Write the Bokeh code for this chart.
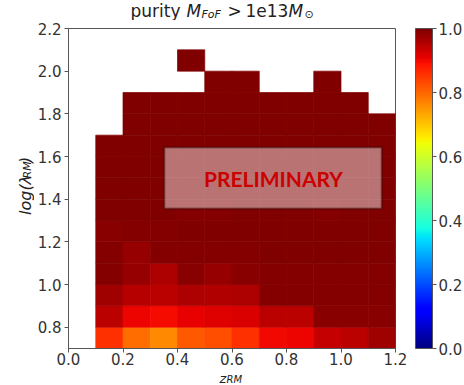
import numpy as np
from bokeh.plotting import figure
from bokeh.models import (ColumnDataSource, LinearColorMapper, ColorBar, FixedTicker,
                          PrintfTickFormatter, BoxAnnotation, Label, Range1d)
from bokeh.layouts import column, row
from bokeh.core.properties import value
from bokeh.embed import file_html
from bokeh.resources import INLINE

# ---------------- data ----------------
# bins along z_RM (left edges, width 0.1) and log(lambda_RM) (bottom edges, width 0.1)
z_left = [0.1, 0.2, 0.3, 0.4, 0.5, 0.6, 0.7, 0.8, 0.9, 1.0, 1.1]
lam_bottom = [0.7, 0.8, 0.9, 1.0, 1.1, 1.2, 1.3, 1.4, 1.5, 1.6, 1.7, 1.8, 1.9, 2.0]
bin_w = 0.1
N = None
# purity per lambda row (bottom to top), one value per z bin
purity = [
    [0.857, 0.794, 0.762, 0.815, 0.825, 0.857, 0.900, 0.905, 0.938, 0.946, 0.970],
    [0.946, 0.905, 0.895, 0.910, 0.915, 0.920, 0.946, 0.946, 0.990, 0.990, 0.990],
    [0.970, 0.950, 0.946, 0.960, 0.955, 0.958, 0.995, 0.995, 0.995, 0.995, 0.995],
    [0.995, 0.980, 0.960, 0.990, 0.980, 0.990, 0.995, 0.995, 0.995, 0.995, 0.995],
    [0.995, 0.980, 0.995, 0.995, 0.995, 0.995, 1.000, 1.000, 1.000, 1.000, 1.000],
    [0.990, 0.995, 0.995, 1.000, 1.000, 1.000, 1.000, 1.000, 1.000, 1.000, 1.000],
    [1.000, 1.000, 1.000, 0.995, 0.995, 1.000, 1.000, 1.000, 0.995, 1.000, 1.000],
    [1.000, 1.000, 1.000, 1.000, 1.000, 1.000, 1.000, 1.000, 1.000, 1.000, 1.000],
    [1.000, 1.000, 1.000, 1.000, 1.000, 1.000, 1.000, 1.000, 1.000, 1.000, 1.000],
    [1.000, 1.000, 1.000, 1.000, 1.000, 1.000, 1.000, 1.000, 1.000, 1.000, 1.000],
    [N,     1.000, 1.000, 1.000, 1.000, 1.000, 1.000, 1.000, 1.000, 1.000, 1.000],
    [N,     1.000, 1.000, 1.000, 1.000, 1.000, 1.000, 1.000, 1.000, 1.000, N],
    [N,     N,     N,     N,     1.000, 1.000, N,     N,     1.000, N,     N],
    [N,     N,     N,     1.000, N,     N,     N,     N,     N,     N,     N],
]
x_ticks = [0.0, 0.2, 0.4, 0.6, 0.8, 1.0, 1.2]
y_ticks = [0.8, 1.0, 1.2, 1.4, 1.6, 1.8, 2.0, 2.2]
cb_ticks = [0.0, 0.2, 0.4, 0.6, 0.8, 1.0]
X0, X1, Y0, Y1 = 0.0, 1.2, 0.7, 2.2

# ---------------- jet colormap ----------------
def _interp(v, pts):
    return float(np.interp(v, [q[0] for q in pts], [q[1] for q in pts]))

def jet_palette(n=256):
    r = [(0, 0), (0.35, 0), (0.66, 1), (0.89, 1), (1, 0.5)]
    g = [(0, 0), (0.125, 0), (0.375, 1), (0.64, 1), (0.91, 0), (1, 0)]
    b = [(0, 0.5), (0.11, 1), (0.34, 1), (0.65, 0), (1, 0)]
    out = []
    for i in range(n):
        v = i / (n - 1)
        out.append("#%02x%02x%02x" % tuple(int(round(255 * _interp(v, c))) for c in (r, g, b)))
    return out

xs, ys, vals = [], [], []
for j, yb in enumerate(lam_bottom):
    for i, xl in enumerate(z_left):
        v = purity[j][i]
        if v is None:
            continue
        xs.append(xl + bin_w / 2)
        ys.append(yb + bin_w / 2)
        vals.append(v)
src = ColumnDataSource(dict(x=xs, y=ys, v=vals))
mapper = LinearColorMapper(palette=jet_palette(), low=0.0, high=1.0)

# ---------------- layout geometry (page pixels) ----------------
TOTAL_W = 462
TOP_H = 20          # title strip
LEFT_W = 34         # y-label strip
FW, FH = 327, 320   # heatmap frame
MAIN_W = TOTAL_W - LEFT_W
MAIN_TOP = 8
MAIN_BOTTOM = 22
MAIN_H = MAIN_TOP + FH + MAIN_BOTTOM
BOT_H = 15          # x-label strip
FL = 68             # page x of frame left

# ---------------- main heatmap figure ----------------
p = figure(width=MAIN_W, height=MAIN_H, output_backend="svg", toolbar_location=None,
           x_range=Range1d(X0, X1), y_range=Range1d(Y0, Y1),
           frame_width=FW, frame_height=FH,
           min_border_left=FL - LEFT_W, min_border_top=MAIN_TOP,
           min_border_right=MAIN_W - (FL - LEFT_W) - FW, min_border_bottom=MAIN_BOTTOM)
p.rect(x="x", y="y", width=bin_w, height=bin_w, source=src,
       fill_color={"field": "v", "transform": mapper},
       line_color={"field": "v", "transform": mapper}, line_width=0.7)

p.grid.visible = False
p.outline_line_color = "#555555"
p.background_fill_color = "white"
p.border_fill_color = "white"
for ax, ticks in ((p.xaxis, x_ticks), (p.yaxis, y_ticks)):
    ax.ticker = FixedTicker(ticks=ticks)
    ax.formatter = PrintfTickFormatter(format="%.1f")
    ax.major_label_text_font = "DejaVu Sans"
    ax.major_label_text_font_size = "15px"
    ax.major_label_text_color = "#333333"
    ax.axis_line_color = "#555555"
    ax.major_tick_line_color = "#555555"
    ax.major_tick_out = 4
    ax.major_tick_in = 0
    ax.minor_tick_out = 0
    ax.minor_tick_in = 0
p.xaxis.major_label_standoff = 0
p.yaxis.major_label_standoff = 3

# PRELIMINARY box
p.add_layout(BoxAnnotation(left=0.352, right=1.149, bottom=1.356, top=1.642,
                           fill_color="white", fill_alpha=0.45,
                           line_color="black", line_width=2))
p.add_layout(Label(x=0.752, y=1.497, text="PRELIMINARY", text_align="center",
                   text_baseline="middle", text_font="Lato", text_font_style="bold",
                   text_font_size="21px", text_color="#cc0000"))

# colour bar
cb = ColorBar(color_mapper=mapper, location=(347, 0), width=17, height=FH,
              padding=0, margin=0, ticker=FixedTicker(ticks=cb_ticks),
              formatter=PrintfTickFormatter(format="%.1f"),
              major_label_text_font="DejaVu Sans", major_label_text_font_size="15px",
              major_label_text_color="#333333",
              major_tick_out=4, major_tick_in=0, major_tick_line_color="#555555",
              bar_line_color="#555555", border_line_color=None,
              background_fill_color=None, label_standoff=2)
p.add_layout(cb)

# ---------------- text strips (title, y label, x label) ----------------
def strip(w, h, px0, py0):
    f = figure(width=w, height=h, output_backend="svg", toolbar_location=None,
               x_range=Range1d(0, w), y_range=Range1d(0, h),
               x_axis_type=None, y_axis_type=None, min_border=0)
    f.outline_line_color = None
    f.background_fill_color = "white"
    f.border_fill_color = "white"

    def add(px, py, s, size, italic=False, vertical=False):
        # px: page x of the text start (or of the text's centre line if vertical)
        # py: page y of the text's centre line (or of the text start if vertical)
        f.text(x=[px - px0], y=[h - (py - py0)], text=[s],
               text_font=value("DejaVu Sans"), text_font_size=value(f"{size}px"),
               text_font_style="italic" if italic else "normal",
               text_align="left", text_baseline="middle",
               angle=np.pi / 2 if vertical else 0.0, text_color="#222222")
    return f, add

# title: purity M_FoF > 1e13 M_sun
t_fig, t_add = strip(TOTAL_W, TOP_H, 0, 0)
t_add(130, 10, "purity", 17)
t_add(186, 10, "M", 17, italic=True)
t_add(201, 13.5, "FoF", 11, italic=True)
t_add(227, 10, ">", 17)
t_add(245, 10, "1e13", 17)
t_add(288, 10, "M", 17, italic=True)
t_add(304, 13.5, "\u2299", 11)

# y label: log(lambda_RM)
l_fig, l_add = strip(LEFT_W, MAIN_H, 0, TOP_H)
l_add(24.5, 224, "log(\u03bb", 16, italic=True, vertical=True)
l_add(27.4, 184, "RM", 11, italic=True, vertical=True)
l_add(24.5, 167, ")", 16, italic=True, vertical=True)

# x label: z_RM
y_b0 = TOP_H + MAIN_H
b_fig, b_add = strip(TOTAL_W, BOT_H, 0, y_b0)
b_add(219, y_b0 + 7.5, "z", 13, italic=True)
b_add(226, y_b0 + 9.2, "RM", 10, italic=True)

layout = column(t_fig, row(l_fig, p, spacing=0), b_fig, spacing=0)
open("out.html", "w").write(file_html(layout, INLINE))
